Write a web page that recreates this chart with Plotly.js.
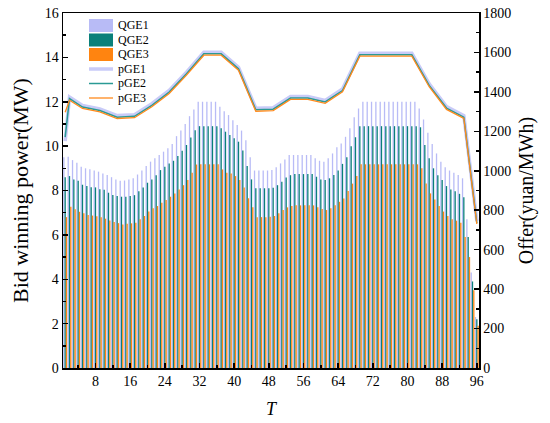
<!DOCTYPE html>
<html>
<head>
<meta charset="utf-8">
<script src="https://cdn.plot.ly/plotly-3.0.1.min.js"></script>
<style>
  html, body { margin: 0; padding: 0; background: #fff; }
  #chart { width: 550px; height: 423px; }
</style>
</head>
<body>
<div id="chart"></div>
<script>
// 96 periods of the day
var periods = [];
for (var i = 1; i <= 96; i++) periods.push(i);

// bid winning power (MW)
var qGE1 = [9.5, 9.52, 9.37, 9.25, 9.07, 9.0, 8.96, 8.9, 8.85, 8.77,
  8.7, 8.6, 8.5, 8.44, 8.45, 8.5, 8.55, 8.72, 8.9, 9.1,
  9.3, 9.45, 9.6, 9.75, 9.9, 10.1, 10.45, 10.7, 11.0, 11.35,
  11.65, 12.0, 12.0, 12.0, 12.0, 12.0, 11.77, 11.57, 11.4, 11.17,
  10.95, 10.7, 10.27, 9.5, 8.9, 8.9, 8.9, 8.9, 8.92, 9.05,
  9.22, 9.4, 9.6, 9.6, 9.6, 9.6, 9.6, 9.6, 9.45, 9.34,
  9.3, 9.45, 9.67, 9.95, 10.12, 10.42, 10.8, 11.3, 11.7, 12.0,
  12.0, 12.0, 12.0, 12.0, 12.0, 12.0, 12.0, 12.0, 12.0, 12.0,
  12.0, 12.0, 11.7, 11.2, 10.6, 10.1, 9.67, 9.3, 9.05, 8.9,
  8.8, 8.7, 8.55, 6.7, 4.3, 2.3];

var qGE2 = [8.6, 8.65, 8.5, 8.44, 8.26, 8.2, 8.15, 8.14, 8.06, 8.03,
  7.9, 7.8, 7.75, 7.72, 7.72, 7.75, 7.79, 7.97, 8.14, 8.35,
  8.5, 8.69, 8.92, 9.07, 9.22, 9.34, 9.55, 9.79, 10.05, 10.39,
  10.72, 10.9, 10.9, 10.9, 10.9, 10.9, 10.8, 10.65, 10.5, 10.35,
  10.2, 9.8, 9.1, 8.5, 8.1, 8.1, 8.1, 8.1, 8.12, 8.24,
  8.39, 8.59, 8.69, 8.74, 8.74, 8.74, 8.74, 8.74, 8.62, 8.5,
  8.47, 8.55, 8.7, 8.9, 9.2, 9.5, 10.0, 10.4, 10.9, 10.9,
  10.9, 10.9, 10.9, 10.9, 10.9, 10.9, 10.9, 10.9, 10.9, 10.9,
  10.9, 10.9, 10.85, 10.05, 9.45, 9.0, 8.69, 8.47, 8.2, 8.05,
  7.97, 7.85, 7.7, 5.9, 3.9, 2.2];

var qGE3 = [6.8, 7.27, 7.15, 7.04, 6.97, 6.9, 6.87, 6.84, 6.8, 6.73,
  6.65, 6.58, 6.53, 6.47, 6.5, 6.52, 6.55, 6.7, 6.85, 7.05,
  7.2, 7.3, 7.45, 7.57, 7.72, 7.87, 8.05, 8.24, 8.47, 8.8,
  9.17, 9.18, 9.18, 9.18, 9.18, 9.18, 8.95, 8.8, 8.77, 8.65,
  8.47, 8.14, 7.65, 7.24, 6.8, 6.8, 6.8, 6.82, 6.85, 6.97,
  7.12, 7.24, 7.3, 7.33, 7.33, 7.33, 7.33, 7.33, 7.24, 7.17,
  7.12, 7.2, 7.34, 7.49, 7.64, 7.98, 8.31, 8.65, 9.18, 9.18,
  9.18, 9.18, 9.18, 9.18, 9.18, 9.18, 9.18, 9.18, 9.18, 9.18,
  9.18, 9.18, 9.0, 8.31, 7.87, 7.6, 7.3, 7.05, 6.85, 6.7,
  6.64, 6.55, 5.9, 5.0, 3.5, 1.9];

// offer prices (yuan/MWh), read at the corners of the lines
var priceT = [1, 2, 5, 9, 13, 17, 21, 25, 29, 33, 37, 41, 45, 49, 53, 57, 61, 65, 69, 73, 77, 81, 85, 89, 93, 96];
var pGE1 = [1150, 1374, 1331, 1314, 1280, 1284, 1340, 1407, 1500, 1601, 1601, 1525, 1317, 1320, 1377, 1377, 1357, 1415, 1596, 1596, 1596, 1596, 1441, 1326, 1280, 745];
var pGE2 = [1171, 1366, 1323, 1306, 1272, 1276, 1332, 1399, 1492, 1593, 1593, 1517, 1309, 1312, 1369, 1369, 1349, 1407, 1588, 1588, 1588, 1588, 1433, 1318, 1272, 735];
var pGE3 = [1297, 1358, 1316, 1299, 1265, 1269, 1325, 1392, 1485, 1586, 1586, 1510, 1302, 1305, 1362, 1362, 1342, 1400, 1581, 1581, 1581, 1581, 1426, 1311, 1265, 730];

var barNames = ["QGE1", "QGE2", "QGE3"];
var lineNames = ["pGE1", "pGE2", "pGE3"];
var barColors = ["#b8bbf6", "#0a807a", "#ff8410"];
var lineColors = ["#c9cbf8", "#2a9a94", "#ff8a1c"];
var lineWidths = [3.5, 1.5, 1.3];

var data = [
  { x: periods, y: qGE1, type: "bar", name: barNames[0], marker: { color: barColors[0] } },
  { x: periods, y: qGE2, type: "bar", name: barNames[1], marker: { color: barColors[1] } },
  { x: periods, y: qGE3, type: "bar", name: barNames[2], marker: { color: barColors[2] } },
  { x: priceT, y: pGE1, type: "scatter", mode: "lines", name: lineNames[0], yaxis: "y2",
    line: { color: lineColors[0], width: lineWidths[0] } },
  { x: priceT, y: pGE2, type: "scatter", mode: "lines", name: lineNames[1], yaxis: "y2",
    line: { color: lineColors[1], width: lineWidths[1] } },
  { x: priceT, y: pGE3, type: "scatter", mode: "lines", name: lineNames[2], yaxis: "y2",
    line: { color: lineColors[2], width: lineWidths[2] } }
];

var serif = "Liberation Serif";

// legend drawn by hand so its rows can sit as close as in the original
var M = { l: 63, r: 71, t: 13, b: 55 };
var plotW = 550 - M.l - M.r, plotH = 423 - M.t - M.b;
function px(x) { return (x - M.l) / plotW; }
function py(y) { return (423 - M.b - y) / plotH; }

var shapes = [], annotations = [];
var rowY = [25.5, 40, 54.5, 69, 83.5, 98];
for (var k = 0; k < 3; k++) {
  shapes.push({ type: "rect", xref: "paper", yref: "paper",
    x0: px(89), x1: px(113), y0: py(rowY[k] - 6.5), y1: py(rowY[k] + 6.5),
    fillcolor: barColors[k], line: { width: 0 } });
  annotations.push({ xref: "paper", yref: "paper", x: px(117), y: py(rowY[k]),
    xanchor: "left", yanchor: "middle", showarrow: false, text: barNames[k], borderpad: 0,
    font: { family: serif, size: 12, color: "#000" } });
}
for (var k = 0; k < 3; k++) {
  shapes.push({ type: "line", xref: "paper", yref: "paper",
    x0: px(89), x1: px(113), y0: py(rowY[k + 3]), y1: py(rowY[k + 3]),
    line: { color: lineColors[k], width: lineWidths[k] } });
  annotations.push({ xref: "paper", yref: "paper", x: px(117), y: py(rowY[k + 3]),
    xanchor: "left", yanchor: "middle", showarrow: false, text: lineNames[k], borderpad: 0,
    font: { family: serif, size: 12, color: "#000" } });
}

var layout = {
  width: 550,
  height: 423,
  margin: M,
  paper_bgcolor: "#fff",
  plot_bgcolor: "#fff",
  font: { family: serif, color: "#000", size: 14 },
  barmode: "group",
  bargap: 0.1,
  bargroupgap: 0,
  showlegend: false,
  shapes: shapes,
  annotations: annotations,
  xaxis: {
    range: [0.5, 96.5],
    tick0: 0, dtick: 8,
    ticks: "inside", ticklen: 5, tickwidth: 1.5, tickcolor: "#000",
    minor: { dtick: 4, ticks: "inside", ticklen: 3, tickcolor: "#000" },
    showline: true, linecolor: "#000", linewidth: 1.5, mirror: true,
    showgrid: false, zeroline: false,
    tickfont: { family: serif, size: 14 },
    title: { text: "<i>T</i>", font: { family: serif, size: 18 }, standoff: 14 }
  },
  yaxis: {
    range: [0, 16], dtick: 2,
    ticks: "inside", ticklen: 5, tickwidth: 1.5, tickcolor: "#000",
    minor: { dtick: 1, ticks: "inside", ticklen: 3, tickcolor: "#000" },
    showline: true, linecolor: "#000", linewidth: 1.5,
    showgrid: false, zeroline: false,
    tickfont: { family: serif, size: 14 },
    title: { text: "Bid winning power(MW)", font: { family: serif, size: 22 }, standoff: 10 }
  },
  yaxis2: {
    range: [0, 1800], dtick: 200,
    overlaying: "y", side: "right",
    ticks: "inside", ticklen: 5, tickwidth: 1.5, tickcolor: "#000",
    minor: { dtick: 100, ticks: "inside", ticklen: 3, tickcolor: "#000" },
    showline: true, linecolor: "#000", linewidth: 1.5,
    showgrid: false, zeroline: false,
    tickfont: { family: serif, size: 14 },
    title: { text: "Offer(yuan/MWh)", font: { family: serif, size: 20 }, standoff: 8 }
  }
};

Plotly.newPlot("chart", data, layout, { displayModeBar: false, staticPlot: true });
</script>
</body>
</html>
